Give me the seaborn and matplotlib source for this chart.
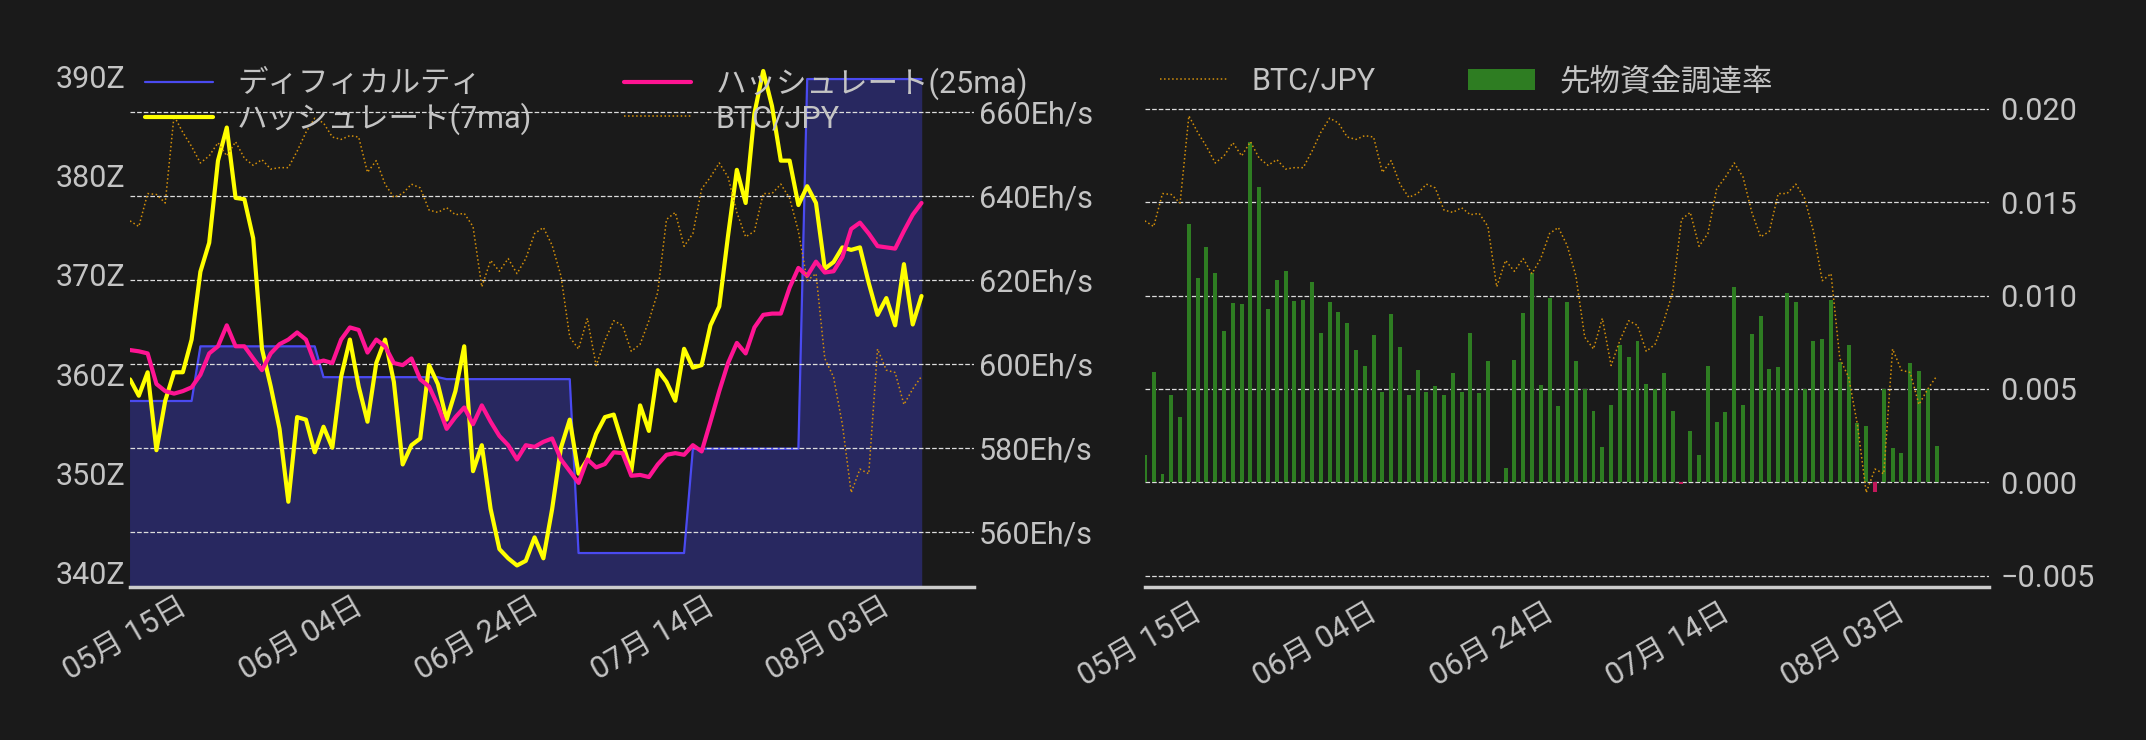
import numpy as np
import pandas as pd
import matplotlib
matplotlib.use("Agg")
import matplotlib.pyplot as plt
import matplotlib.dates as mdates
from matplotlib.ticker import FuncFormatter
import seaborn as sns

dates = pd.date_range("2024-05-08", periods=91, freq="D")

difficulty = [357.3]*8 + [362.8]*14 + [359.7]*14 + [359.5]*15 + [342.0]*13 + [352.5]*13 + [389.7]*14

hash7 = [596.3,592.4,598,579.4,591.2,598,598,605.8,622,628.9,648.5,656.4,639.6,639.3,630,603.6,594.6,584.5,567.1,587.3,
         586.7,578.9,585,580,596.9,605.8,594.6,586.2,600.2,605.8,595.7,576,580.6,582.2,599.7,595.2,586.7,593.5,604.2,574.4,
         580.6,565.4,555.8,553.6,551.9,553,558.6,553.6,565.4,580,586.7,573.8,577.2,583.3,587.3,587.9,581.1,574.4,590.1,584,
         598.5,595.7,591.2,603.6,599.1,599.7,609.2,613.7,630.6,646.3,638.4,659.8,669.9,661.5,648.5,648.5,637.9,642.4,638.4,622.7,
         624.3,627.8,627.2,627.8,619.3,611.7,615.7,609.2,623.8,609.4,616.2]

hash25 = [603.3,603,602.5,595.2,593.5,592.9,593.5,594.4,597.4,602.5,604.2,609.2,604.2,604.2,601.3,598.5,602.5,604.7,605.8,607.5,
          605.8,600.2,600.8,600.2,605.8,608.7,608.1,602.7,605.8,604.2,600.2,599.7,601.3,596.3,594.6,590.1,584.5,587.3,589.6,585.6,
          590.1,586.2,582.8,580.6,577.2,580.6,580.2,581.4,582.2,577.2,574.4,571.6,577.2,575.3,576.1,578.9,578.7,573.3,573.5,573,
          576,578.3,578.7,578.3,580.6,579.1,586.2,593.5,600.2,605,602.5,608.7,611.7,612,612,618.2,622.9,621,624.4,621.8,
          622.1,625.5,632.2,633.7,631.1,628.1,627.8,627.5,631.7,635.6,638.4]

btc = [1059.6,1056.0,1077.0,1076.4,1071.0,1126.5,1116.0,1107.0,1096.5,1101.0,1109.4,1101.0,1110.0,1099.5,1095.0,1098.6,1092.6,
       1093.5,1093.5,1104.0,1116.0,1125.0,1122.0,1113.0,1111.5,1113.9,1113.0,1090.5,1098.0,1083.0,1074.6,1077.0,1083.0,1080.6,
       1066.5,1065.0,1068.0,1063.5,1064.4,1056.0,1017.6,1034.4,1027.5,1035.6,1026.0,1035.6,1051.5,1055.4,1044.0,1024.5,985.5,
       978.0,997.5,967.5,983.4,996.0,993.0,976.5,981.0,996.0,1014.0,1060.5,1065.0,1043.4,1051.5,1080.0,1087.5,1096.5,1087.5,
       1065.0,1049.4,1053.0,1077.0,1077.0,1083.0,1074.0,1053.0,1021.5,1026.0,972.0,960.0,930.0,886.5,901.5,898.5,978.0,964.5,
       963.0,942.6,952.5,960.6]

funding = [0.00146,0.00588,0.00045,0.00467,0.00348,0.01382,0.01092,0.01261,0.01122,0.00810,0.00961,0.00953,0.01823,0.01579,
           0.00926,0.01085,0.01130,0.00971,0.00976,0.01072,0.00797,0.00963,0.00913,0.00852,0.00711,0.00623,0.00787,0.00484,
           0.00900,0.00724,0.00467,0.00600,0.00484,0.00515,0.00469,0.00585,0.00482,0.00800,0.00479,0.00648,0.0,0.00076,
           0.00656,0.00908,0.01122,0.00520,0.00986,0.00406,0.00966,0.00648,0.00497,0.00383,0.00189,0.00416,0.00736,0.00673,
           0.00757,0.00527,0.00497,0.00585,0.00383,-0.00010,0.00277,0.00146,0.00623,0.00323,0.00378,0.01047,0.00416,0.00794,
           0.00890,0.00608,0.00618,0.01011,0.00966,0.00499,0.00757,0.00769,0.00976,0.00643,0.00736,0.00315,0.00303,-0.00050,
           0.00499,0.00184,0.00159,0.00638,0.00598,0.00499,0.00192]

df = pd.DataFrame({"date": dates, "diff": difficulty, "h7": hash7, "h25": hash25, "btc": btc, "fund": funding})

sns.set_theme(style="dark")
BG = "#1a1a1a"
TXT = "#c4c4c4"
plt.rcParams['font.family'] = ['Roboto', 'Noto Sans CJK JP', 'DejaVu Sans']
plt.rcParams['font.size'] = 22
plt.rcParams['axes.unicode_minus'] = True

fig = plt.figure(figsize=(21.46, 7.4), dpi=100, facecolor=BG)
axL = fig.add_axes([0.0606, 0.207, 0.3934, 0.709])
axR = fig.add_axes([0.5335, 0.207, 0.3935, 0.709])

xlim = (pd.Timestamp("2024-05-08"), pd.Timestamp("2024-08-12"))
btc_lim = (826.5, 1160.7)
FS = 22

def style(ax):
    ax.set_facecolor("none")
    for s in ["top", "left", "right", "bottom"]:
        ax.spines[s].set_visible(False)
    ax.tick_params(colors=TXT, labelsize=FS, length=0)
    ax.grid(False)

# ---- left chart ----
axL.set_facecolor(BG)
for s in ["top", "left", "right"]:
    axL.spines[s].set_visible(False)
axL.spines["bottom"].set_color("#cccccc")
axL.spines["bottom"].set_linewidth(2.5)
axL.grid(False)
axL.fill_between(df["date"], difficulty, 300, color="#282860", zorder=1)
sns.lineplot(data=df, x="date", y="diff", ax=axL, color="#4a4af0", linewidth=1.6, label="ディフィカルティ", zorder=2)
axL.set_ylim(338.6, 391.4)
axL.set_yticks([340, 350, 360, 370, 380, 390])
axL.yaxis.set_major_formatter(FuncFormatter(lambda v, p: f"{v:.0f}Z"))
axL.set_xlabel(""); axL.set_ylabel("")

axL2 = axL.twinx()
style(axL2)
sns.lineplot(data=df, x="date", y="h7", ax=axL2, color="#ffff00", linewidth=3, label="ハッシュレート(7ma)")
sns.lineplot(data=df, x="date", y="h25", ax=axL2, color="#ff1493", linewidth=3, label="ハッシュレート(25ma)")
axL2.set_ylim(546.8, 672)
axL2.set_yticks([560, 580, 600, 620, 640, 660])
axL2.yaxis.set_major_formatter(FuncFormatter(lambda v, p: f"{v:.0f}Eh/s"))
axL2.grid(True, axis="y", color="#dddddd", linestyle="--", linewidth=0.9)
axL2.set_xlabel(""); axL2.set_ylabel("")

axL3 = axL.twinx()
style(axL3)
sns.lineplot(data=df, x="date", y="btc", ax=axL3, color="#d4900a", linewidth=1.1, linestyle=":", label="BTC/JPY")
axL3.set_ylim(*btc_lim)
axL3.set_yticks([])
axL3.set_xlabel(""); axL3.set_ylabel("")
axL.tick_params(colors=TXT, labelsize=FS, length=0)
axL.yaxis.tick_left()

h1, l1 = axL.get_legend_handles_labels()
h2, l2 = axL2.get_legend_handles_labels()
h3, l3 = axL3.get_legend_handles_labels()
for a in (axL, axL2, axL3):
    if a.get_legend():
        a.get_legend().remove()
legL = axL3.legend(h1 + h2 + h3, l1 + l2 + l3, ncol=2, loc="upper left", bbox_to_anchor=(0.0, 1.02),
                   frameon=False, fontsize=FS, labelcolor=TXT, columnspacing=3.0, handlelength=2.2,
                   borderaxespad=0.1, labelspacing=0.15)
legL.set_zorder(10)

# ---- right chart ----
axR.set_facecolor(BG)
for s in ["top", "left", "right"]:
    axR.spines[s].set_visible(False)
axR.spines["bottom"].set_color("#cccccc")
axR.spines["bottom"].set_linewidth(2.5)
axR.grid(False)
colors = ["#2e7d22" if v >= 0 else "#c2185b" for v in funding]
axR.bar(df["date"], df["fund"], width=0.45, color=colors, edgecolor="none", linewidth=0,
        label="先物資金調達率", zorder=2)
axR.set_ylim(-0.0056, 0.0225)
axR.set_yticks([-0.005, 0.0, 0.005, 0.010, 0.015, 0.020])
axR.yaxis.set_major_formatter(FuncFormatter(lambda v, p: f"{v:.3f}".replace("-", "\u2212")))
axR.grid(True, axis="y", color="#dddddd", linestyle="--", linewidth=0.9)
axR.set_axisbelow(True)

axR2 = axR.twinx()
style(axR2)
sns.lineplot(data=df, x="date", y="btc", ax=axR2, color="#d4900a", linewidth=1.1, linestyle=":", label="BTC/JPY")
axR2.set_ylim(*btc_lim)
axR2.set_yticks([])
axR2.set_xlabel(""); axR2.set_ylabel("")
axR.yaxis.tick_right()
axR.tick_params(colors=TXT, labelsize=FS, length=0, pad=8)
hb, lb = axR.get_legend_handles_labels()
hc, lc = axR2.get_legend_handles_labels()
axR2.get_legend().remove()
axR2.legend(hc + hb, lc + lb, ncol=2, loc="upper left", bbox_to_anchor=(0.0, 1.02), frameon=False,
            fontsize=FS, labelcolor=TXT, columnspacing=3.0, handlelength=2.2, borderaxespad=0.1)

ticks = pd.date_range("2024-05-15", periods=5, freq="20D")
for a in (axL, axR):
    a.set_xlim(*xlim)
    a.set_xticks(ticks)
    a.set_xticklabels([d.strftime("%m月 %d日") for d in ticks], rotation=30, ha="right", color=TXT, fontsize=FS)
    a.set_xlabel("")
for a in (axL2, axL3, axR2):
    a.set_xlim(*xlim)

fig.savefig("out.png", dpi=100, facecolor=BG)
